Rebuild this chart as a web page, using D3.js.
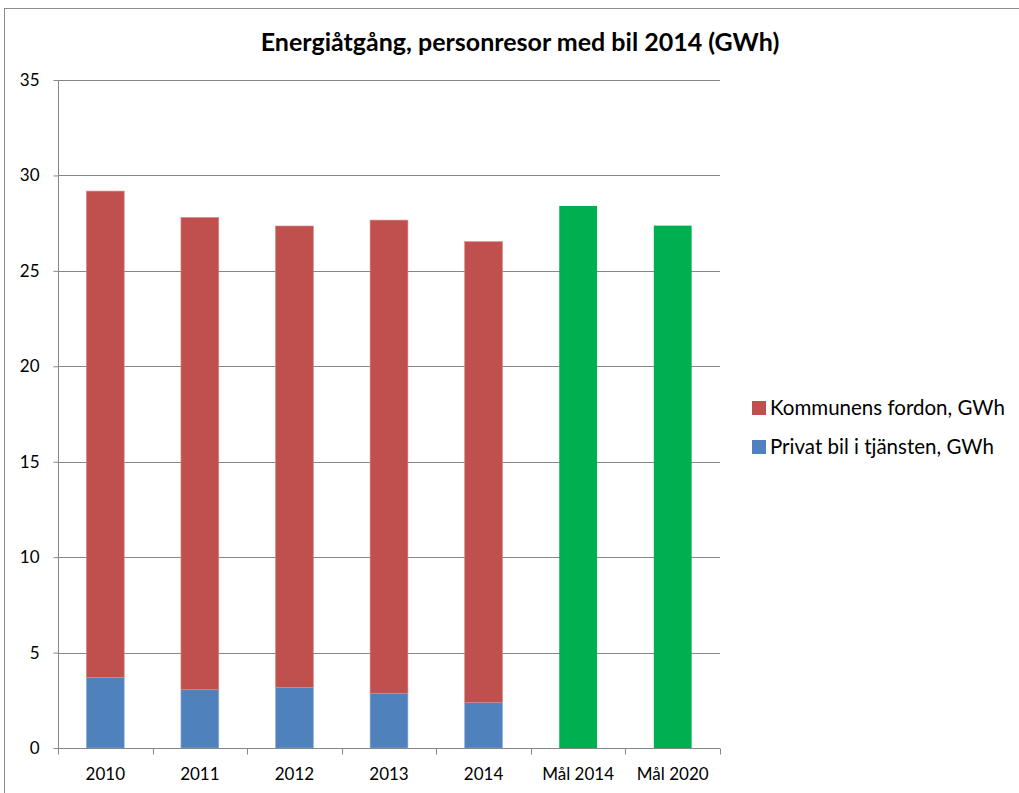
<!DOCTYPE html>
<html><head><meta charset="utf-8">
<script src="https://cdn.jsdelivr.net/npm/d3@7"></script>
<style>body{margin:0;background:#fff}svg{display:block}</style>
</head><body>
<svg id="c" width="1019" height="793"></svg>
<script>
const categories = ["2010","2011","2012","2013","2014","Mål 2014","Mål 2020"];
const privatBil = [3.70, 3.07, 3.18, 2.87, 2.39, 0, 0];
const kommunensFordon = [25.48, 24.73, 24.17, 24.79, 24.14, 0, 0];
const mal = [0, 0, 0, 0, 0, 28.40, 27.37];
const yTicks = [0,5,10,15,20,25,30,35];
const titleText = "Energiåtgång, personresor med bil 2014 (GWh)";
const legendLabels = ["Kommunens fordon, GWh","Privat bil i tjänsten, GWh"];

const colors = {privat:"#4F81BD", kommun:"#C0504D", mal:"#00B050"};
const font = "Lato, 'Open Sans', sans-serif";
const svg = d3.select("#c");

// outer chart border
svg.append("rect").attr("x",4.5).attr("y",8.5).attr("width",1030).attr("height",800)
  .attr("fill","none").attr("stroke","#8c8c8c").attr("stroke-width",1);

const m = {left:58, right:720, top:80, bottom:748};
const x = d3.scaleBand().domain(categories).range([m.left,m.right]);
const y = d3.scaleLinear().domain([0,35]).range([m.bottom,m.top]);

// gridlines
svg.append("g").selectAll("line").data(yTicks.filter(d=>d>0)).join("line")
  .attr("x1",m.left).attr("x2",m.right)
  .attr("y1",d=>Math.round(y(d))+0.5).attr("y2",d=>Math.round(y(d))+0.5)
  .attr("stroke","#868686").attr("stroke-width",1);

// bars
const bw = x.step()*0.4;
const bx = d => x(d)+ (x.step()-bw)/2;
const stackData = categories.map((c,i)=>({c, p:privatBil[i], k:kommunensFordon[i], g:mal[i]}));
const g = svg.append("g");
g.selectAll(".p").data(stackData.filter(d=>d.p>0)).join("rect")
  .attr("x",d=>bx(d.c)).attr("width",bw)
  .attr("y",d=>y(d.p)).attr("height",d=>y(0)-y(d.p))
  .attr("fill",colors.privat).attr("stroke","#8fafd6").attr("stroke-width",0.6);
g.selectAll(".k").data(stackData.filter(d=>d.k>0)).join("rect")
  .attr("x",d=>bx(d.c)).attr("width",bw)
  .attr("y",d=>y(d.p+d.k)).attr("height",d=>y(d.p)-y(d.p+d.k))
  .attr("fill",colors.kommun).attr("stroke","#d88a88").attr("stroke-width",0.6);
g.selectAll(".g").data(stackData.filter(d=>d.g>0)).join("rect")
  .attr("x",d=>bx(d.c)).attr("width",bw)
  .attr("y",d=>y(d.g)).attr("height",d=>y(0)-y(d.g))
  .attr("fill",colors.mal);

// y axis
const yAxis = d3.axisLeft(y).tickValues(yTicks).tickSize(5).tickPadding(14).tickFormat(d3.format("d"));
const ya = svg.append("g").attr("transform",`translate(${m.left+0.5},0)`).call(yAxis);
ya.select(".domain").attr("stroke","#868686").attr("d",`M0,${m.top}V${m.bottom}`);
ya.selectAll(".tick line").attr("stroke","#868686");
ya.selectAll(".tick text").attr("font-family",font).attr("font-size",17).attr("fill","#000");

// x axis
const xa = svg.append("g").attr("transform",`translate(0,${m.bottom+0.5})`);
xa.append("line").attr("x1",m.left).attr("x2",m.right).attr("stroke","#868686");
const bounds = categories.map(c=>x(c)).concat([m.right]);
xa.selectAll(".tk").data(bounds).join("line")
  .attr("x1",d=>Math.round(d)+0.5).attr("x2",d=>Math.round(d)+0.5).attr("y1",0).attr("y2",6)
  .attr("stroke","#868686");
xa.selectAll("text").data(categories).join("text")
  .attr("x",d=>x(d)+x.bandwidth()/2).attr("y",31)
  .attr("text-anchor","middle").attr("font-family",font).attr("font-size",17).attr("fill","#000")
  .text(d=>d);

// title
svg.append("text").attr("x",520).attr("y",51).attr("text-anchor","middle")
  .attr("font-family",font).attr("font-weight","bold").attr("font-size",25).attr("fill","#000")
  .text(titleText);

// legend
const leg = svg.append("g");
const legColors = [colors.kommun, colors.privat];
legendLabels.forEach((t,i)=>{
  const yy = 408 + i*39;
  leg.append("rect").attr("x",752).attr("y",yy-7).attr("width",14).attr("height",14).attr("fill",legColors[i]);
  leg.append("text").attr("x",770).attr("y",yy+7).attr("font-family",font).attr("font-size",20.5).attr("fill","#000").text(t);
});
</script>
</body></html>
